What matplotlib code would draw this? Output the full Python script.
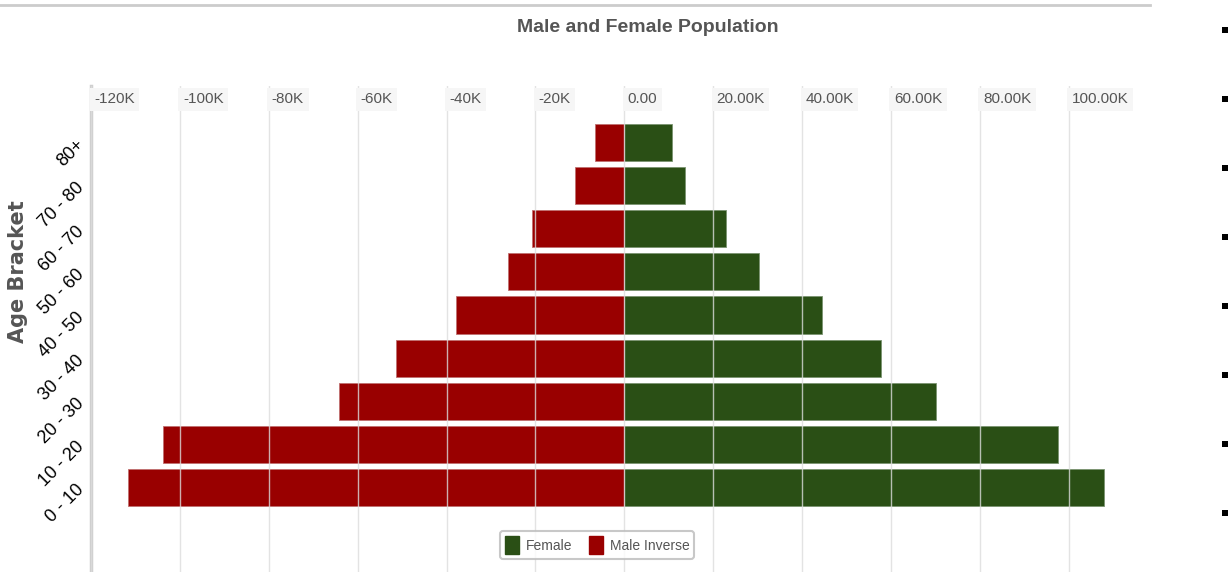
import numpy as np
import matplotlib
matplotlib.use('Agg')
import matplotlib.pyplot as plt
from matplotlib.patches import Patch, Rectangle
from matplotlib.lines import Line2D

# data
brackets = ['0 - 10', '10 - 20', '20 - 30', '30 - 40', '40 - 50',
            '50 - 60', '60 - 70', '70 - 80', '80+']
female = [108000, 97600, 70200, 57800, 44500, 30400, 22900, 13700, 10800]
male = [111600, 103900, 64100, 51300, 37800, 26100, 20700, 11000, 6500]
male_inverse = [-v for v in male]
xticks = [-120000, -100000, -80000, -60000, -40000, -20000,
          0, 20000, 40000, 60000, 80000, 100000]
xtick_labels = ['-120K', '-100K', '-80K', '-60K', '-40K', '-20K',
                '0.00', '20.00K', '40.00K', '60.00K', '80.00K', '100.00K']

W, H = 1229, 572
fig = plt.figure(figsize=(W / 100, H / 100), dpi=100)
ax = fig.add_axes([91 / W, 0, (1150 - 91) / W, 1 - 86 / H])

green = '#2a4f15'
red = '#990000'
grid_c = '#dcdcdc'
txt_c = '#555555'
font = 'Liberation Sans'

y = np.arange(len(brackets))
ax.barh(y, female, height=0.86, color=green, edgecolor='#7a9470', linewidth=0.6, zorder=2)
ax.barh(y, male_inverse, height=0.86, color=red, edgecolor='#c07070', linewidth=0.6, zorder=2)

ax.set_xlim(-120000, 118300)
ax.set_ylim(-1.96, 9.31)

for xv, lab in zip(xticks, xtick_labels):
    ax.axvline(xv, color=grid_c, lw=1, zorder=3, alpha=0.8)
    ax.text(xv + 700, 9.0, lab, fontsize=11, color=txt_c, family=font,
            ha='left', va='center', zorder=4,
            bbox=dict(boxstyle='square,pad=0.3', fc='#f6f6f6', ec='none'))

for s in ['top', 'right', 'bottom']:
    ax.spines[s].set_visible(False)
ax.spines['left'].set_color('#cfcfcf')
ax.spines['left'].set_linewidth(2.5)

ax.set_xticks([])
ax.set_yticks(y)
ax.set_yticklabels(brackets, rotation=45, ha='right', va='center',
                   rotation_mode='anchor', fontsize=13, family=font)
ax.tick_params(axis='y', length=0, pad=7)

fig.text(18 / W, 1 - 272 / H, 'Age Bracket', rotation=90, ha='center', va='center',
         fontsize=15, fontweight='bold', color=txt_c, family='DejaVu Sans')
fig.text(648 / W, 1 - 28 / H, 'Male and Female Population', ha='center', va='center',
         fontsize=14, fontweight='bold', color=txt_c, family=font)

handles = [Patch(facecolor=green, edgecolor=green), Patch(facecolor=red, edgecolor=red)]
leg = fig.legend(handles, ['Female', 'Male Inverse'], loc='center',
                 bbox_to_anchor=(597 / W, 1 - 545 / H), ncol=2, frameon=True,
                 handlelength=1.0, handleheight=1.6, columnspacing=1.2,
                 handletextpad=0.5, borderpad=0.35, fancybox=True,
                 prop={'family': font, 'size': 10})
leg.get_frame().set_edgecolor('#bbbbbb')
leg.get_frame().set_linewidth(1.5)
for t in leg.get_texts():
    t.set_color(txt_c)

# top rule and stray bullets on the right
fig.add_artist(Line2D([0, 1150 / W], [1 - 5 / H, 1 - 5 / H], color='#cccccc', lw=2))
for yb in np.linspace(30, 513, 8):
    fig.add_artist(Rectangle((1222 / W, 1 - (yb + 3) / H), 6 / W, 6 / H,
                             facecolor='black', edgecolor='none'))

fig.savefig('out.png', dpi=100)
